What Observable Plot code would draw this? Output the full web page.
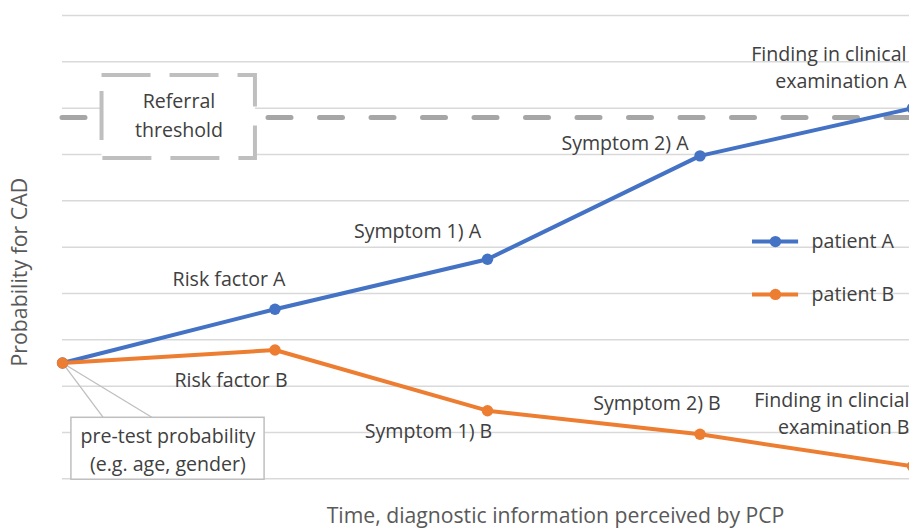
<!DOCTYPE html>
<html>
<head>
<meta charset="utf-8">
<script src="https://cdn.jsdelivr.net/npm/d3@7"></script>
<script src="https://cdn.jsdelivr.net/npm/@observablehq/plot@0.6"></script>
<style>
  html, body { margin: 0; padding: 0; background: white; overflow: hidden; }
  #chart svg { display: block; font-family: "Open Sans", sans-serif; }
</style>
</head>
<body>
<div id="chart"></div>
<script>
// ---- data ----
const steps = [0, 1, 2, 3, 4];
const patientA = [2.5, 3.66, 4.74, 6.97, 8.0];
const patientB = [2.5, 2.78, 1.47, 0.96, 0.27];
const labelsA = ["", "Risk factor A", "Symptom 1) A", "Symptom 2) A", "Finding in clinical\nexamination A"];
const labelsB = ["", "Risk factor B", "Symptom 1) B", "Symptom 2) B", "Finding in clincial\nexamination B"];
const seriesNames = ["patient A", "patient B"];
const referralThreshold = 7.8;
const thresholdLabel = "Referral\nthreshold";
const pretestLabel = "pre-test probability\n(e.g. age, gender)";
const gridValues = [0, 1, 2, 3, 4, 5, 6, 7, 8, 9, 10];
const xTitle = "Time, diagnostic information perceived by PCP";
const yTitle = "Probability for CAD";

// ---- styles / layout (not data) ----
const colors = ["#4472C4", "#ED7D31"];
const textColor = "#404040";
const labelSize = 19.6;
const offA = [[0, 0, "middle"], [-46, -32, "middle"], [-70, -30, "middle"], [-75, -15, "middle"], [-6, -42, "end"]];
const offB = [[0, 0, "middle"], [-44, 28, "middle"], [-59, 19, "middle"], [-43, -33, "middle"], [-3, -54, "end"]];

const rows = [];
steps.forEach((s, i) => {
  rows.push({series: seriesNames[0], x: s, y: patientA[i], label: labelsA[i], off: offA[i]});
  rows.push({series: seriesNames[1], x: s, y: patientB[i], label: labelsB[i], off: offB[i]});
});
const rowsA = rows.filter(d => d.series === seriesNames[0]);
const rowsB = rows.filter(d => d.series === seriesNames[1]);

const labelMarks = [];
for (const d of rows) {
  if (!d.label) continue;
  labelMarks.push(Plot.text([d], {
    x: "x", y: "y", text: "label",
    dx: d.off[0], dy: d.off[1], textAnchor: d.off[2],
    fill: textColor, fontSize: labelSize, lineHeight: 1.38
  }));
}

// legend positions (in data coordinates of the chart)
const legend = seriesNames.map((n, i) => ({name: n, y: [5.12, 3.98][i], x1: 3.247, x2: 3.464, xm: 3.355, c: colors[i]}));

const chart = Plot.plot({
  width: 909,
  height: 529,
  marginLeft: 62,
  marginRight: 0,
  marginTop: 15,
  marginBottom: 50.7,
  x: {domain: [0, 4], range: [62, 912], axis: null},
  y: {domain: [0, 10], axis: null},
  style: {fontFamily: "Open Sans, sans-serif", background: "white"},
  marks: [
    Plot.ruleY(gridValues, {stroke: "#d9d9d9", strokeWidth: 1.5}),
    // referral threshold dashed line
    Plot.ruleY([referralThreshold], {x1: 0, x2: 4.2, stroke: "#a6a6a6", strokeWidth: 5, strokeLinecap: "round", strokeDasharray: "23,28.5"}),
    // referral threshold box
    Plot.rect([referralThreshold], {x1: 0.186, x2: 0.908, y1: 6.913, y2: 8.705, fill: "white", stroke: "#bfbfbf", strokeWidth: 4, strokeDasharray: "49,19"}),
    Plot.text([thresholdLabel], {x: 0.548, y: referralThreshold, dy: -4, text: d => d, fill: textColor, fontSize: labelSize, lineHeight: 1.48}),
    // pre-test callout
    Plot.link([0.193, 0.424], {x1: steps[0], y1: patientA[0], x2: d => d, y2: 1.317, stroke: "#bfbfbf", strokeWidth: 1.3}),
    Plot.rect([pretestLabel], {x1: 0.042, x2: 0.951, y1: -0.02, y2: 1.317, fill: "white", stroke: "#bfbfbf", strokeWidth: 1.5}),
    Plot.text([pretestLabel], {x: 0.496, y: 0.61, dy: -2.5, text: d => d, fill: textColor, fontSize: labelSize, lineHeight: 1.42}),
    // lines
    Plot.line(rowsA, {x: "x", y: "y", stroke: colors[0], strokeWidth: 4}),
    Plot.line(rowsB, {x: "x", y: "y", stroke: colors[1], strokeWidth: 4}),
    Plot.dot(rowsA, {x: "x", y: "y", fill: colors[0], r: 5.7}),
    Plot.dot(rowsB, {x: "x", y: "y", fill: colors[1], r: 5.7}),
    ...labelMarks,
    // legend
    Plot.ruleY(legend, {y: "y", x1: "x1", x2: "x2", stroke: "c", strokeWidth: 4}),
    Plot.dot(legend, {x: "xm", y: "y", fill: "c", r: 5.7}),
    Plot.text(legend, {x: "x2", y: "y", text: "name", dx: 13, textAnchor: "start", fill: textColor, fontSize: 19.6}),
    // axis titles
    Plot.text([xTitle], {x: 2.32, y: -0.88, dy: -3.5, text: d => d, fill: "#595959", fontSize: 21.2}),
    Plot.text([yTitle], {x: -0.198, y: 4.46, text: d => d, rotate: -90, fill: "#595959", fontSize: 21.3})
  ]
});
document.getElementById("chart").append(chart);
</script>
</body>
</html>
